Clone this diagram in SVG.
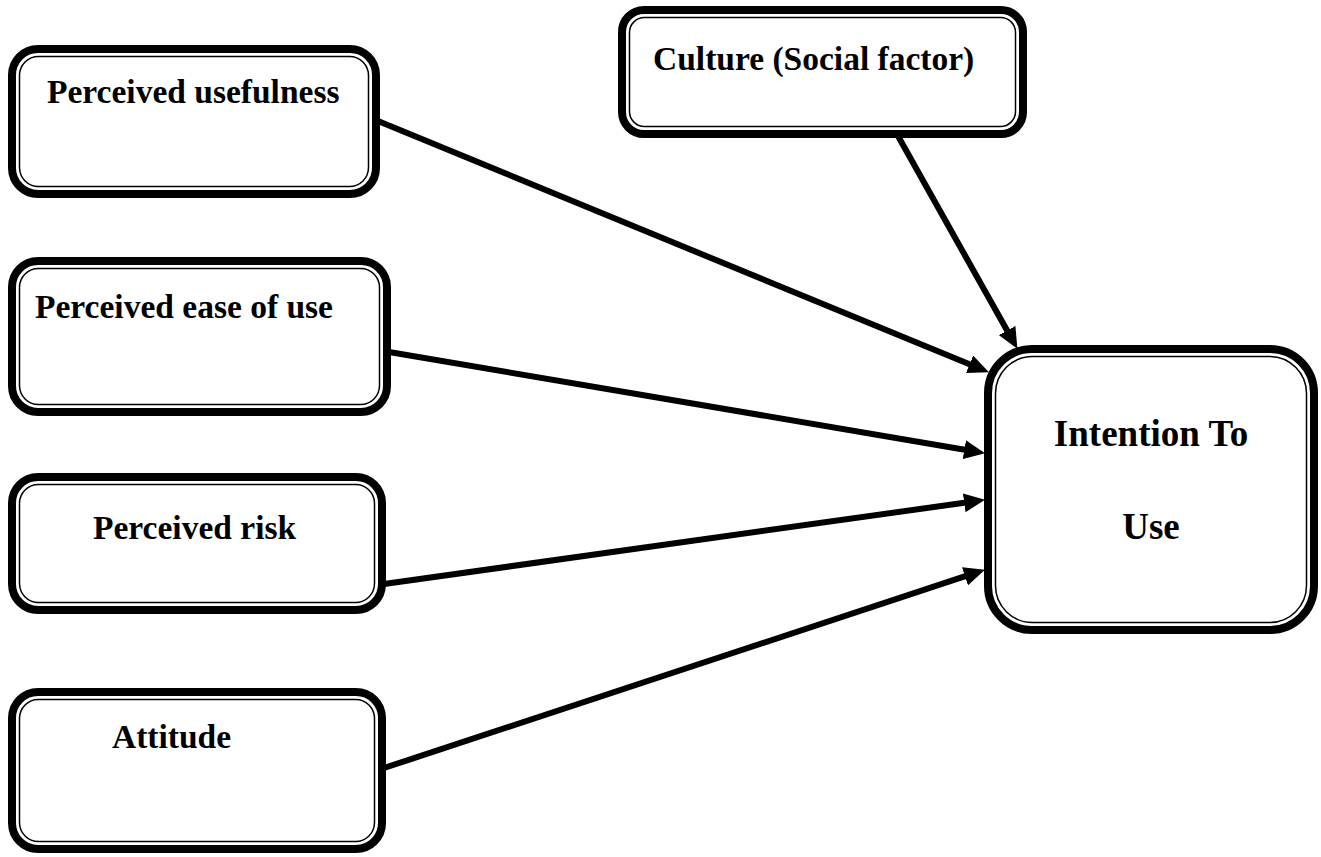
<svg xmlns="http://www.w3.org/2000/svg" width="1321" height="857" viewBox="0 0 1321 857">
<defs>
<style>
.outer{fill:none;stroke:#000;stroke-width:8}
.inner{fill:none;stroke:#000;stroke-width:1.5}
.lbl{font-family:"Liberation Serif","Times New Roman",serif;font-weight:bold;font-size:33.5px;fill:#000}
.big{font-size:37px}
.conn line{stroke:#000;stroke-width:6;marker-end:url(#ah)}
</style>
<marker id="ah" markerUnits="userSpaceOnUse" markerWidth="21" markerHeight="19" viewBox="0 0 21 19" refX="2" refY="9.5" orient="auto">
<path d="M0,0 L21,9.5 L0,19 z" fill="#000"/>
</marker>
</defs>
<rect width="1321" height="857" fill="#fff"/>
<g id="pu">
<rect class="outer" x="12" y="49" width="364" height="145" rx="26"/>
<rect class="inner" x="19.5" y="56.5" width="349" height="130" rx="19"/>
<text class="lbl" x="47" y="103">Perceived usefulness</text>
</g>
<g id="peou">
<rect class="outer" x="12" y="261" width="375" height="151" rx="26"/>
<rect class="inner" x="19.5" y="268.5" width="360" height="136" rx="19"/>
<text class="lbl" x="35" y="318">Perceived ease of use</text>
</g>
<g id="pr">
<rect class="outer" x="12" y="477" width="370" height="133" rx="26"/>
<rect class="inner" x="19.5" y="484.5" width="355" height="118" rx="19"/>
<text class="lbl" x="93" y="539">Perceived risk</text>
</g>
<g id="att">
<rect class="outer" x="12" y="692" width="370" height="157" rx="26"/>
<rect class="inner" x="19.5" y="699.5" width="355" height="142" rx="19"/>
<text class="lbl" x="112" y="748">Attitude</text>
</g>
<g id="culture">
<rect class="outer" x="622" y="10" width="401" height="124" rx="22"/>
<rect class="inner" x="629.5" y="17.5" width="386" height="109" rx="15"/>
<text class="lbl" x="653" y="70">Culture (Social factor)</text>
</g>
<g id="itu">
<rect class="outer" x="988" y="349" width="326" height="281" rx="44"/>
<rect class="inner" x="995.5" y="356.5" width="311" height="266" rx="37"/>
<text class="lbl big" x="1151" y="446" text-anchor="middle">Intention To</text>
<text class="lbl big" x="1151" y="539" text-anchor="middle">Use</text>
</g>
<g id="connectors" class="conn">
<line x1="378" y1="121" x2="971.4" y2="365.1"/>
<line x1="898" y1="136" x2="1008.1" y2="332.3"/>
<line x1="389" y1="352" x2="966.3" y2="450.0"/>
<line x1="384" y1="584" x2="966.2" y2="502.5"/>
<line x1="384" y1="768" x2="966.9" y2="575.7"/>
</g>
</svg>
